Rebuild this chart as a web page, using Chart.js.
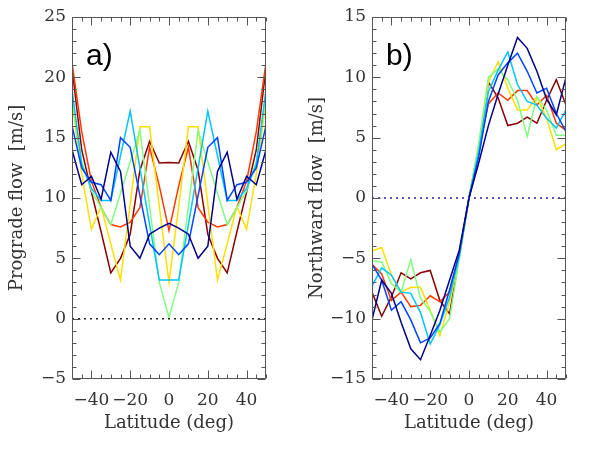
<!DOCTYPE html>
<html>
<head>
<meta charset="utf-8">
<script src="https://cdn.jsdelivr.net/npm/chart.js@4.4.0/dist/chart.umd.min.js"></script>
<style>
  body { margin: 0; background: #fff; }
  #wrap { position: relative; width: 599px; height: 450px; }
  canvas { position: absolute; top: 0; }
</style>
</head>
<body>
<div id="wrap">
  <canvas id="chartA" width="300" height="450" style="left:0"></canvas>
  <canvas id="chartB" width="299" height="450" style="left:300px"></canvas>
</div>
<script>
// latitude grid and tick labels
const lats = [-50, -45, -40, -35, -30, -25, -20, -15, -10, -5, 0, 5, 10, 15, 20, 25, 30, 35, 40, 45, 50];
const latTicks = [-40, -20, 0, 20, 40];
const progTicks = [-5, 0, 5, 10, 15, 20, 25];
const northTicks = [-15, -10, -5, 0, 5, 10, 15];

const lineColors = ['#000088', '#0044ff', '#00c4ff', '#80ff80', '#ffe000', '#ff3800', '#880000'];

// a) prograde flow [m/s]
const progNavy   = [14.0, 11.1, 11.8, 9.9, 13.8, 12.2, 6.0, 5.0, 7.0, 7.5, 7.9, 7.5, 7.0, 5.0, 6.0, 12.2, 13.8, 9.9, 11.8, 11.1, 14.0];
const progBlue   = [16.0, 12.5, 11.3, 11.1, 9.8, 15.0, 14.2, 10.2, 6.2, 5.3, 6.2, 5.3, 6.2, 10.2, 14.2, 15.0, 9.8, 11.1, 11.3, 12.5, 16.0];
const progCyan   = [19.0, 12.8, 10.8, 9.8, 9.8, 13.5, 17.2, 12.5, 7.8, 3.2, 3.2, 3.2, 7.8, 12.5, 17.2, 13.5, 9.8, 9.8, 10.8, 12.8, 19.0];
const progGreen  = [18.3, 13.0, 10.6, 9.2, 7.8, 10.4, 13.0, 15.6, 9.3, 3.0, 0.1, 3.0, 9.3, 15.6, 13.0, 10.4, 7.8, 9.2, 10.6, 13.0, 18.3];
const progYellow = [18.0, 12.0, 7.4, 9.3, 6.2, 3.2, 9.5, 15.9, 15.9, 9.3, 3.0, 9.3, 15.9, 15.9, 9.5, 3.2, 6.2, 9.3, 7.4, 12.0, 18.0];
const progRed    = [21.2, 15.5, 11.4, 9.2, 7.8, 7.6, 8.0, 9.2, 14.2, 11.0, 7.3, 11.0, 14.2, 9.2, 8.0, 7.6, 7.8, 9.2, 11.4, 15.5, 21.2];
const progDark   = [20.8, 14.0, 10.5, 7.2, 3.8, 5.0, 7.0, 12.3, 14.7, 12.9, 12.95, 12.9, 14.7, 12.3, 7.0, 5.0, 3.8, 7.2, 10.5, 14.0, 20.8];

// b) northward flow [m/s]
const northNavy   = [-10.1, -6.8, -7.9, -10.3, -12.5, -13.4, -11.4, -9.3, -6.8, -4.3, 0, 2.9, 6.0, 8.6, 11.0, 13.3, 12.4, 10.5, 8.2, 6.9, 10.0];
const northBlue   = [-5.5, -6.8, -9.3, -8.6, -10.1, -12.0, -11.6, -10.4, -7.6, -4.6, 0, 3.4, 8.0, 10.2, 11.2, 12.0, 10.5, 8.7, 9.1, 7.0, 5.5];
const northCyan   = [-7.3, -5.8, -6.4, -7.8, -7.9, -9.5, -12.1, -10.5, -8.2, -4.8, 0, 3.8, 8.8, 10.6, 12.1, 9.4, 8.0, 7.7, 6.6, 5.8, 7.3];
const northGreen  = [-5.2, -5.3, -7.1, -7.8, -5.1, -8.3, -9.4, -11.1, -10.0, -5.0, 0, 4.5, 10.0, 10.7, 9.8, 8.1, 5.1, 8.4, 7.3, 5.2, 5.2];
const northYellow = [-4.4, -4.1, -6.4, -7.8, -7.4, -7.4, -9.3, -11.4, -8.6, -5.0, 0, 4.3, 9.6, 11.3, 9.1, 7.3, 7.3, 8.4, 6.6, 4.0, 4.5];
const northRed    = [-5.5, -6.3, -8.5, -7.8, -9.0, -8.9, -8.1, -8.6, -7.8, -4.6, 0, 4.0, 7.8, 8.7, 8.1, 8.9, 8.9, 7.7, 8.5, 6.2, 5.6];
const northDark   = [-7.8, -9.8, -8.2, -6.2, -6.7, -6.2, -6.0, -8.5, -9.6, -4.8, 0, 4.2, 9.6, 8.3, 6.0, 6.2, 6.7, 6.2, 8.1, 9.8, 7.7];

const axisFont = { family: 'DejaVu Serif', size: 17 };
const titleFont = { family: 'DejaVu Serif', size: 18 };
const textColor = '#333';

function minus(v) {
  return v < 0 ? '\u2212' + Math.abs(v) : String(v);
}

// box with inward ticks on all four sides, plus the panel letter
const framePlugin = {
  id: 'frame',
  afterDatasetsDraw(chart, args, opts) {
    const { ctx, chartArea: a, scales: { x, y } } = chart;
    ctx.save();
    ctx.strokeStyle = '#555';
    ctx.lineWidth = 1;
    ctx.beginPath();
    const L = Math.round(a.left) + 0.5, R = Math.round(a.right) - 0.5;
    const T = Math.round(a.top) + 0.5, B = Math.round(a.bottom) - 0.5;
    ctx.rect(L, T, R - L, B - T);
    for (let v = x.min; v <= x.max; v += 5) {
      const px = Math.round(x.getPixelForValue(v)) + 0.5;
      const len = latTicks.includes(v) ? 8 : 4;
      ctx.moveTo(px, B); ctx.lineTo(px, B - len);
      ctx.moveTo(px, T); ctx.lineTo(px, T + len);
    }
    for (let v = y.min; v <= y.max; v += 1) {
      const py = Math.round(y.getPixelForValue(v)) + 0.5;
      const len = v % 5 === 0 ? 8 : 4;
      ctx.moveTo(L, py); ctx.lineTo(L + len, py);
      ctx.moveTo(R, py); ctx.lineTo(R - len, py);
    }
    ctx.stroke();
    ctx.fillStyle = '#000';
    ctx.font = '30px "Liberation Sans"';
    ctx.textBaseline = 'alphabetic';
    ctx.fillText(opts.label, a.left + 14, 65);
    ctx.restore();
  }
};

function makePanel(id, series, yTicks, yTitle, label, zeroColor, rightPad) {
  const datasets = series.map((vals, i) => ({
    data: lats.map((lat, j) => ({ x: lat, y: vals[j] })),
    borderColor: lineColors[i],
    borderWidth: 1.5,
    pointRadius: 0,
    fill: false,
    tension: 0
  }));
  datasets.unshift({
    data: [{ x: -50, y: 0 }, { x: 50, y: 0 }],
    borderColor: zeroColor,
    borderWidth: 1.5,
    borderDash: [2, 4],
    pointRadius: 0,
    fill: false
  });
  new Chart(document.getElementById(id), {
    type: 'line',
    data: { datasets },
    options: {
      responsive: false,
      animation: false,
      layout: { padding: { top: 17, right: rightPad, left: 0, bottom: 0 } },
      plugins: {
        legend: { display: false },
        tooltip: { enabled: false },
        frame: { label }
      },
      scales: {
        x: {
          type: 'linear',
          min: -50,
          max: 50,
          grid: { display: false, drawTicks: false },
          border: { display: false },
          afterBuildTicks: axis => { axis.ticks = latTicks.map(v => ({ value: v })); },
          afterFit: s => { s.height = 71; },
          ticks: { font: axisFont, color: textColor, padding: 11, maxRotation: 0, autoSkip: false, callback: v => minus(v) },
          title: { display: true, text: 'Latitude (deg)', font: titleFont, color: textColor, padding: { top: 0, bottom: 16 } }
        },
        y: {
          type: 'linear',
          min: yTicks[0],
          max: yTicks[yTicks.length - 1],
          grid: { display: false, drawTicks: false },
          border: { display: false },
          afterBuildTicks: axis => { axis.ticks = yTicks.map(v => ({ value: v })); },
          afterFit: s => { s.width = 72; },
          ticks: { font: axisFont, color: textColor, padding: 6, autoSkip: false, callback: v => minus(v) },
          title: { display: true, text: yTitle, font: titleFont, color: textColor, padding: { top: 7, bottom: 0 } }
        }
      }
    },
    plugins: [framePlugin]
  });
}

makePanel('chartA',
  [progNavy, progBlue, progCyan, progGreen, progYellow, progRed, progDark],
  progTicks, 'Prograde flow  [m/s]', 'a)', '#222', 34);

makePanel('chartB',
  [northNavy, northBlue, northCyan, northGreen, northYellow, northRed, northDark],
  northTicks, 'Northward flow  [m/s]', 'b)', '#2222bb', 33);
</script>
</body>
</html>
